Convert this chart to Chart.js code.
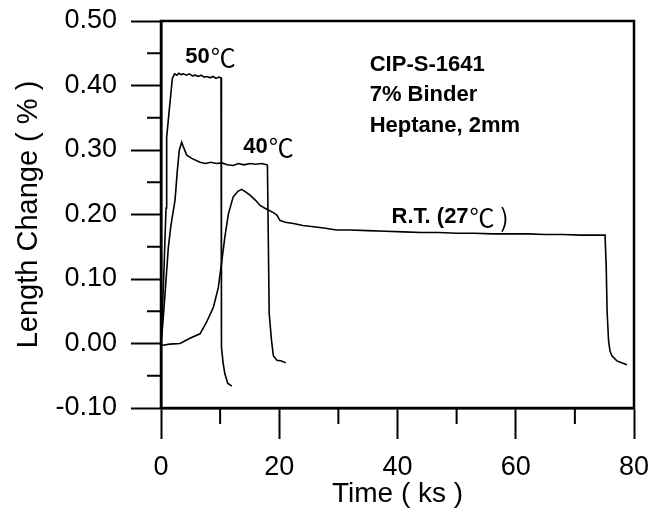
<!DOCTYPE html>
<html>
<head>
<meta charset="utf-8">
<script src="https://cdn.jsdelivr.net/npm/chart.js@4"></script>
<style>
  html, body { margin: 0; padding: 0; background: #fff; }
  #wrap { width: 660px; height: 521px; position: relative; }
</style>
</head>
<body>
<div id="wrap"><canvas id="chart"></canvas></div>
<script>
// time (ks) and length change (%)
const t50 = [0, 0.45, 0.85, 0.96, 1.44, 1.92, 2.3, 2.7, 3.0, 3.4, 3.8, 4.3, 4.8, 5.3, 5.8, 6.3, 6.8, 7.3, 7.8, 8.3, 8.8, 9.3, 9.8, 10.15, 10.2, 10.25, 10.5, 10.8, 11.3, 12.0];
const v50 = [0, 0.10, 0.21, 0.32, 0.366, 0.411, 0.418, 0.416, 0.419, 0.417, 0.418, 0.416, 0.418, 0.415, 0.416, 0.414, 0.416, 0.413, 0.414, 0.412, 0.414, 0.411, 0.413, 0.412, 0.20, -0.005, -0.03, -0.047, -0.062, -0.066];

const t40 = [0, 0.3, 0.68, 1.24, 1.64, 1.8, 2.37, 2.76, 3.1, 3.5, 3.78, 4.35, 5.2, 6.6, 7.5, 8.4, 9.4, 10.3, 11.2, 12.2, 13.1, 14.0, 15.1, 16.0, 17.0, 17.9, 18.0, 18.3, 18.7, 19.0, 19.6, 20.4, 21.1];
const v40 = [0, 0.03, 0.077, 0.149, 0.18, 0.19, 0.222, 0.268, 0.30, 0.312, 0.305, 0.292, 0.287, 0.281, 0.279, 0.281, 0.279, 0.280, 0.277, 0.276, 0.279, 0.277, 0.279, 0.278, 0.279, 0.277, 0.276, 0.046, 0.004, -0.019, -0.026, -0.027, -0.030];

const tRT = [0, 1.5, 3.2, 4.9, 6.6, 7.7, 8.85, 9.7, 10.3, 10.8, 11.4, 12.2, 13.0, 13.65, 14.3, 15.06, 16.0, 16.75, 17.5, 18.15, 19.0, 19.6, 20.1, 21.0, 22.4, 24.0, 25.8, 27.5, 29.7, 32, 35, 38, 41, 44, 47, 50, 53, 56, 59, 62, 65, 68, 71, 73, 75.1, 75.3, 75.45, 75.7, 75.95, 76.26, 77.1, 77.9, 78.8];
const vRT = [-0.003, -0.001, 0.0, 0.008, 0.015, 0.033, 0.056, 0.087, 0.129, 0.165, 0.201, 0.227, 0.236, 0.239, 0.235, 0.23, 0.222, 0.214, 0.210, 0.207, 0.203, 0.199, 0.191, 0.188, 0.186, 0.183, 0.181, 0.179, 0.176, 0.176, 0.175, 0.174, 0.173, 0.172, 0.172, 0.171, 0.171, 0.170, 0.170, 0.170, 0.169, 0.169, 0.168, 0.168, 0.168, 0.12, 0.05, 0.004, -0.012, -0.019, -0.027, -0.030, -0.033];

const xMinor = [10, 30, 50, 70];
const yMinor = [-0.05, 0.05, 0.15, 0.25, 0.35, 0.45];

const notes = [
  {x: 4.1, y: 0.444, bold: "50", thin: "℃"},
  {x: 13.9, y: 0.304, bold: "40", thin: "℃"},
  {x: 35.3, y: 0.432, bold: "CIP-S-1641", thin: ""},
  {x: 35.3, y: 0.385, bold: "7% Binder", thin: ""},
  {x: 35.3, y: 0.338, bold: "Heptane, 2mm", thin: ""},
  {x: 39.0, y: 0.196, bold: "R.T. (27", thin: "℃ )"}
];

const FONT = "'Liberation Sans', Arial, sans-serif";

function pts(xs, ys) {
  return xs.map((x, i) => ({x, y: ys[i]}));
}

const framePlugin = {
  id: "frame",
  afterDraw(chart) {
    const {ctx, chartArea: a, scales} = chart;
    ctx.save();
    ctx.strokeStyle = "#000";
    ctx.lineWidth = 2.5;
    ctx.strokeRect(a.left, a.top, a.right - a.left, a.bottom - a.top);

    // minor ticks
    ctx.lineWidth = 2;
    ctx.beginPath();
    xMinor.forEach(v => {
      const px = scales.x.getPixelForValue(v);
      ctx.moveTo(px, a.bottom);
      ctx.lineTo(px, a.bottom + 16);
    });
    yMinor.forEach(v => {
      const py = scales.y.getPixelForValue(v);
      ctx.moveTo(a.left, py);
      ctx.lineTo(a.left - 14, py);
    });
    ctx.stroke();

    // labels
    ctx.fillStyle = "#000";
    ctx.textBaseline = "middle";
    notes.forEach(n => {
      let px = scales.x.getPixelForValue(n.x);
      const py = scales.y.getPixelForValue(n.y);
      ctx.font = "bold 22px " + FONT;
      ctx.fillText(n.bold, px, py);
      px += ctx.measureText(n.bold).width + 1;
      if (n.thin) {
        ctx.font = "25px 'Noto Sans CJK JP', " + FONT;
        ctx.fillText(n.thin, px, py);
      }
    });
    ctx.restore();
  }
};

const line = (data) => ({
  data,
  borderColor: "#000",
  borderWidth: 1.6,
  pointRadius: 0,
  tension: 0,
  showLine: true,
  fill: false
});

new Chart(document.getElementById("chart"), {
  type: "scatter",
  data: {
    datasets: [
      line(pts(t50, v50)),
      line(pts(t40, v40)),
      line(pts(tRT, vRT))
    ]
  },
  options: {
    responsive: true,
    maintainAspectRatio: false,
    animation: false,
    layout: {padding: {top: 21, right: 26, left: 0, bottom: 0}},
    plugins: {legend: {display: false}, tooltip: {enabled: false}},
    scales: {
      x: {
        type: "linear",
        min: 0, max: 80,
        afterFit: s => { s.height = 113; s.paddingLeft = 0; s.paddingRight = 0; },
        ticks: {stepSize: 20, color: "#000", padding: 12, font: {family: FONT, size: 27}},
        grid: {drawOnChartArea: false, tickLength: 31, tickWidth: 2, tickColor: "#000"},
        border: {color: "#000", width: 2.5},
        title: {display: true, text: "Time ( ks )", color: "#000", padding: {top: 0, bottom: 10}, font: {family: FONT, size: 28}}
      },
      y: {
        type: "linear",
        min: -0.1, max: 0.5,
        afterFit: s => { s.width = 161; s.paddingTop = 0; s.paddingBottom = 0; },
        ticks: {stepSize: 0.1, color: "#000", padding: 14, font: {family: FONT, size: 27},
          callback: v => (Math.abs(v) < 1e-9 ? 0 : Number(v)).toFixed(2)},
        grid: {drawOnChartArea: false, tickLength: 30, tickWidth: 2, tickColor: "#000"},
        border: {color: "#000", width: 2.5},
        title: {display: true, text: "Length Change ( % )", color: "#000", padding: {top: 12, bottom: 0}, font: {family: FONT, size: 29}}
      }
    }
  },
  plugins: [framePlugin]
});
</script>
</body>
</html>
